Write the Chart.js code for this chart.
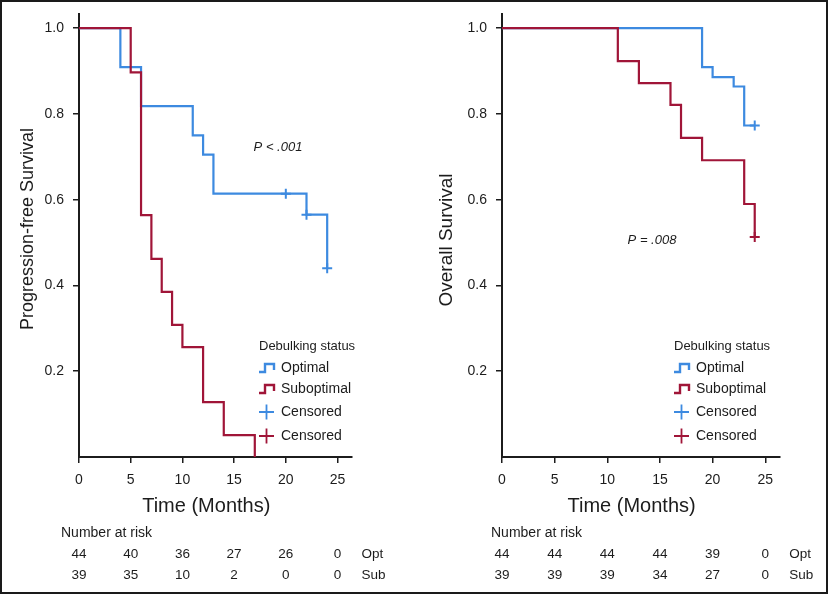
<!DOCTYPE html>
<html>
<head>
<meta charset="utf-8">
<script src="https://cdn.jsdelivr.net/npm/chart.js@4.4.1/dist/chart.umd.min.js"></script>
<style>
body { margin: 0; background: #fff; }
#wrap { position: relative; width: 828px; height: 596px; }
#frame { position: absolute; left: 0; top: 0; width: 828px; height: 594px; box-sizing: border-box; border: 2px solid #1a1a1a; pointer-events: none; }
canvas { position: absolute; top: 0; }
</style>
</head>
<body>
<div id="wrap">
<canvas id="pfs" width="414" height="596" style="left:0"></canvas>
<canvas id="os" width="414" height="596" style="left:414px"></canvas>
<div id="frame"></div>
</div>
<script>
// time axis ticks and survival ticks
const xTicks = [0, 5, 10, 15, 20, 25];
const yTicks = [0.2, 0.4, 0.6, 0.8, 1.0];

// progression-free survival
const pfsOptTime = [0, 4, 6, 11, 12, 13, 22, 24];
const pfsOptSurv = [1, 0.909, 0.818, 0.75, 0.705, 0.614, 0.565, 0.44];
const pfsSubTime = [0, 5, 6, 7, 8, 9, 10, 12, 14, 17];
const pfsSubSurv = [1, 0.897, 0.564, 0.462, 0.385, 0.308, 0.256, 0.128, 0.051, 0];
const pfsOptCensTime = [20, 22, 24];
const pfsOptCensSurv = [0.614, 0.565, 0.44];
const pfsSubCensTime = [];
const pfsSubCensSurv = [];
const pfsRiskOpt = [44, 40, 36, 27, 26, 0];
const pfsRiskSub = [39, 35, 10, 2, 0, 0];

// overall survival
const osOptTime = [0, 19, 20, 22, 23, 24];
const osOptSurv = [1, 0.909, 0.886, 0.864, 0.773, 0.773];
const osSubTime = [0, 11, 13, 16, 17, 19, 23, 24];
const osSubSurv = [1, 0.923, 0.872, 0.821, 0.744, 0.692, 0.59, 0.513];
const osOptCensTime = [24];
const osOptCensSurv = [0.773];
const osSubCensTime = [24];
const osSubCensSurv = [0.513];
const osRiskOpt = [44, 44, 44, 44, 39, 0];
const osRiskSub = [39, 39, 39, 34, 27, 0];

const blue = "#3d8ae0";
const red = "#a01538";
const ink = "#1c1c1c";
const family = "'Liberation Sans', Arial, Helvetica, sans-serif";

function points(times, surv)
{
    return times.map((t, i) => ({x: t, y: surv[i]}));
}

function stepIcon(ctx, x, y, color)
{
    ctx.save();
    ctx.strokeStyle = color;
    ctx.lineWidth = 2.4;
    ctx.beginPath();
    ctx.moveTo(x, y + 4);
    ctx.lineTo(x + 6, y + 4);
    ctx.lineTo(x + 6, y - 4);
    ctx.lineTo(x + 15, y - 4);
    ctx.lineTo(x + 15, y + 2);
    ctx.stroke();
    ctx.restore();
}

function crossIcon(ctx, x, y, color)
{
    ctx.save();
    ctx.strokeStyle = color;
    ctx.lineWidth = 1.8;
    ctx.beginPath();
    ctx.moveTo(x, y);
    ctx.lineTo(x + 15, y);
    ctx.moveTo(x + 7.5, y - 7.5);
    ctx.lineTo(x + 7.5, y + 7.5);
    ctx.stroke();
    ctx.restore();
}

const extras = {
    id: "extras",
    afterDraw(chart, args, o)
    {
        const ctx = chart.ctx;
        const x = chart.scales.x;
        ctx.save();
        ctx.fillStyle = ink;

        // y title
        ctx.save();
        ctx.translate(o.yTitleX, o.yTitleY);
        ctx.rotate(-Math.PI / 2);
        ctx.font = o.yTitleSize + "px " + family;
        ctx.textAlign = "center";
        ctx.textBaseline = "middle";
        ctx.fillText(o.yTitle, 0, 0);
        ctx.restore();

        // x title
        ctx.font = "20px " + family;
        ctx.textAlign = "center";
        ctx.textBaseline = "middle";
        ctx.fillText("Time (Months)", x.getPixelForValue(12.5) - 2, 506);

        // p value
        ctx.font = "italic 13px " + family;
        ctx.fillText(o.pText, o.pX, o.pY);

        // legend
        ctx.textAlign = "left";
        ctx.font = "13px " + family;
        ctx.fillText("Debulking status", o.legX, 346);
        ctx.font = "14px " + family;
        stepIcon(ctx, o.legX, 368, blue);
        ctx.fillText("Optimal", o.legX + 22, 368);
        stepIcon(ctx, o.legX, 389, red);
        ctx.fillText("Suboptimal", o.legX + 22, 389);
        crossIcon(ctx, o.legX, 412, blue);
        ctx.fillText("Censored", o.legX + 22, 412);
        crossIcon(ctx, o.legX, 436, red);
        ctx.fillText("Censored", o.legX + 22, 436);

        // number at risk table
        ctx.font = "14px " + family;
        ctx.fillText("Number at risk", o.riskX, 533);
        ctx.font = "13.5px " + family;
        ctx.textAlign = "center";
        xTicks.forEach((t, i) => {
            const px = x.getPixelForValue(t);
            ctx.fillText(String(o.riskOpt[i]), px, 554);
            ctx.fillText(String(o.riskSub[i]), px, 575);
        });
        ctx.textAlign = "left";
        const lx = x.getPixelForValue(25) + 24;
        ctx.fillText("Opt", lx, 554);
        ctx.fillText("Sub", lx, 575);
        ctx.restore();
    }
};

function generateKM(canvas, d)
{
    return new Chart(canvas, {
        type: "line",
        data: {
            datasets: [
                {
                    label: "Suboptimal",
                    data: points(d.subTime, d.subSurv),
                    borderColor: red,
                    borderWidth: 2.2,
                    stepped: true,
                    pointRadius: 0,
                    order: 1
                },
                {
                    label: "Optimal",
                    data: points(d.optTime, d.optSurv),
                    borderColor: blue,
                    borderWidth: 2.2,
                    stepped: true,
                    pointRadius: 0,
                    order: 2
                },
                {
                    label: "Censored",
                    data: points(d.optCensTime, d.optCensSurv),
                    showLine: false,
                    pointStyle: "cross",
                    pointRadius: 5,
                    pointBorderWidth: 2,
                    borderColor: blue,
                    order: 0
                },
                {
                    label: "Censored",
                    data: points(d.subCensTime, d.subCensSurv),
                    showLine: false,
                    pointStyle: "cross",
                    pointRadius: 5,
                    pointBorderWidth: 2,
                    borderColor: red,
                    order: 0
                }
            ]
        },
        options: {
            responsive: false,
            animation: false,
            events: [],
            layout: {
                padding: {left: 0, top: 14, right: d.padRight, bottom: 0}
            },
            plugins: {
                legend: {display: false},
                tooltip: {enabled: false},
                extras: d.extras
            },
            scales: {
                x: {
                    type: "linear",
                    min: 0,
                    max: 26.4,
                    afterBuildTicks: axis => { axis.ticks = xTicks.map(v => ({value: v})); },
                    afterFit: axis => { axis.height = 139; },
                    border: {color: ink, width: 2},
                    grid: {drawOnChartArea: false, color: ink, tickLength: 6, lineWidth: 1.5},
                    ticks: {color: ink, font: {family, size: 14}, padding: 9, maxRotation: 0}
                },
                y: {
                    type: "linear",
                    min: 0,
                    max: 1.033,
                    afterBuildTicks: axis => { axis.ticks = yTicks.map(v => ({value: v})); },
                    afterFit: axis => {
                        axis.width = d.yWidth;
                        axis.paddingTop = 0;
                        axis.paddingBottom = 0;
                    },
                    border: {color: ink, width: 2},
                    grid: {drawOnChartArea: false, color: ink, tickLength: 6, lineWidth: 1.5},
                    ticks: {color: ink, font: {family, size: 14}, padding: 9, callback: v => v.toFixed(1)}
                }
            }
        },
        plugins: [extras]
    });
}

generateKM(document.getElementById("pfs"), {
    optTime: pfsOptTime, optSurv: pfsOptSurv,
    subTime: pfsSubTime, subSurv: pfsSubSurv,
    optCensTime: pfsOptCensTime, optCensSurv: pfsOptCensSurv,
    subCensTime: pfsSubCensTime, subCensSurv: pfsSubCensSurv,
    yWidth: 79, padRight: 62,
    extras: {
        yTitle: "Progression-free Survival", yTitleSize: 18, yTitleX: 28, yTitleY: 229,
        pText: "P < .001", pX: 278, pY: 147,
        legX: 259, riskX: 61,
        riskOpt: pfsRiskOpt, riskSub: pfsRiskSub
    }
});

generateKM(document.getElementById("os"), {
    optTime: osOptTime, optSurv: osOptSurv,
    subTime: osSubTime, subSurv: osSubSurv,
    optCensTime: osOptCensTime, optCensSurv: osOptCensSurv,
    subCensTime: osSubCensTime, subCensSurv: osSubCensSurv,
    yWidth: 88, padRight: 48,
    extras: {
        yTitle: "Overall Survival", yTitleSize: 19, yTitleX: 33, yTitleY: 240,
        pText: "P = .008", pX: 238, pY: 240,
        legX: 260, riskX: 77,
        riskOpt: osRiskOpt, riskSub: osRiskSub
    }
});
</script>
</body>
</html>
